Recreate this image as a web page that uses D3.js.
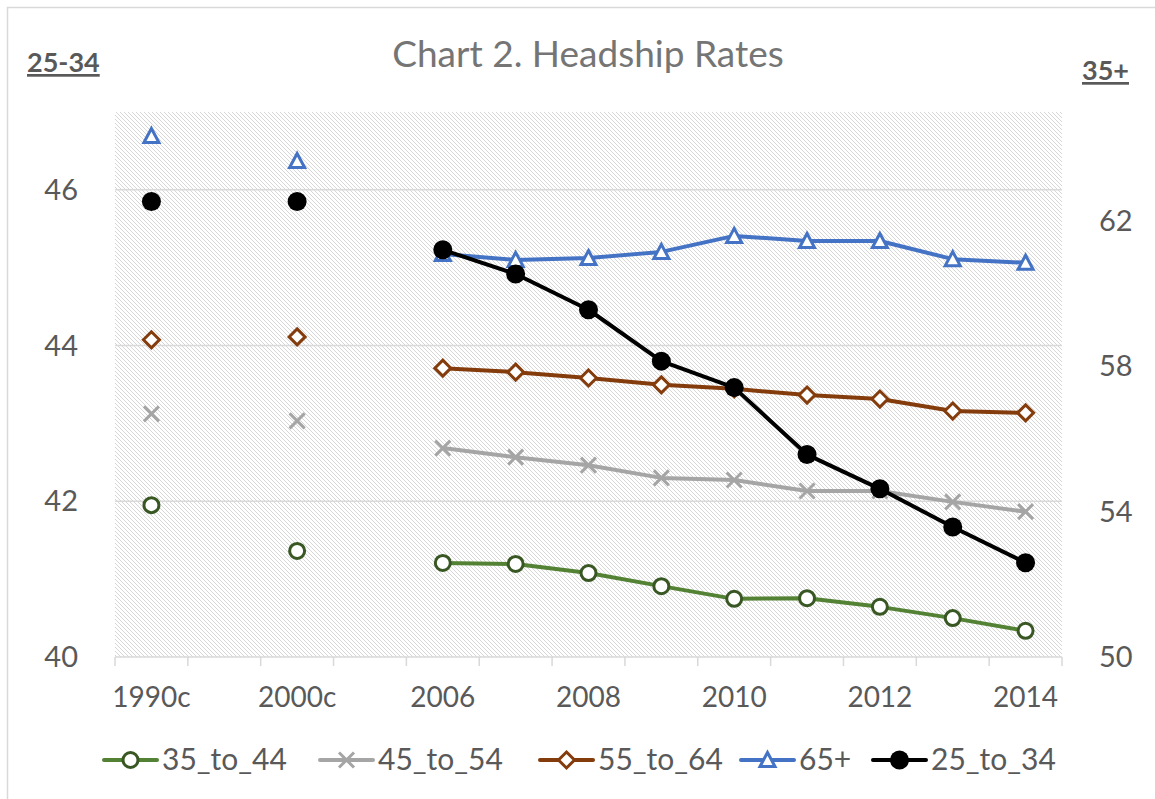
<!DOCTYPE html>
<html>
<head>
<meta charset="utf-8">
<script src="https://cdn.jsdelivr.net/npm/d3@7"></script>
<style>
  body { margin: 0; background: #fff; }
  text { font-family: Lato, "Open Sans", sans-serif; fill: #595959; }
</style>
</head>
<body>
<script>
var width = 1155,
    height = 799;

// categories, blanks keep the gaps between the census years and 2006
var categories = ["1990c", "", "2000c", "", "2006", "2007", "2008", "2009", "2010", "2011", "2012", "2013", "2014"];

var s35to44 = [54.18, null, 52.92, null, 52.59, 52.56, 52.31, 51.95, 51.60, 51.62, 51.38, 51.07, 50.72];
var s45to54 = [56.69, null, 56.50, null, 55.75, 55.50, 55.28, 54.93, 54.87, 54.57, 54.57, 54.27, 54.00];
var s55to64 = [58.73, null, 58.81, null, 57.95, 57.84, 57.68, 57.49, 57.38, 57.21, 57.10, 56.77, 56.72];
var s65plus = [64.34, null, 63.65, null, 61.09, 60.93, 60.98, 61.15, 61.59, 61.45, 61.45, 60.95, 60.85];
var s25to34 = [45.85, null, 45.85, null, 45.23, 44.92, 44.46, 43.80, 43.46, 42.60, 42.16, 41.67, 41.21];

var leftTicks = [40, 42, 44, 46];
var rightTicks = [50, 54, 58, 62];

var series = [
  {name: "35_to_44", values: s35to44, axis: "right", color: "#548235", mark: "#385723", marker: "circleOpen"},
  {name: "45_to_54", values: s45to54, axis: "right", color: "#a5a5a5", mark: "#a5a5a5", marker: "cross"},
  {name: "55_to_64", values: s55to64, axis: "right", color: "#843c0c", mark: "#843c0c", marker: "diamond"},
  {name: "65+",      values: s65plus, axis: "right", color: "#4472c4", mark: "#4472c4", marker: "triangle"},
  {name: "25_to_34", values: s25to34, axis: "left",  color: "#000000", mark: "#000000", marker: "circleFilled"}
];

var plot = {left: 115, top: 112, right: 1062, bottom: 657};

var svg = d3.select("body").append("svg")
    .attr("width", width)
    .attr("height", height);

// outer chart border
svg.append("rect")
    .attr("x", 7.5).attr("y", 7.5)
    .attr("width", width).attr("height", height)
    .attr("fill", "none")
    .attr("stroke", "#d9d9d9")
    .attr("stroke-width", 1.5);

// hatched plot background, one pixel per row like excel's light downward diagonal
var pat = svg.append("defs").append("pattern")
    .attr("id", "hatch")
    .attr("patternUnits", "userSpaceOnUse")
    .attr("width", 4).attr("height", 4);
pat.append("rect").attr("width", 4).attr("height", 4).attr("fill", "#fff");
pat.selectAll("rect.px")
    .data([0, 1, 2, 3])
    .enter().append("rect")
    .attr("class", "px")
    .attr("x", function(d) { return d; })
    .attr("y", function(d) { return d; })
    .attr("width", 1).attr("height", 1)
    .attr("fill", "#d6d6d6")
    .attr("shape-rendering", "crispEdges");

svg.append("rect")
    .attr("x", plot.left).attr("y", plot.top)
    .attr("width", plot.right - plot.left)
    .attr("height", plot.bottom - plot.top)
    .attr("fill", "url(#hatch)");

var x = d3.scaleBand()
    .domain(d3.range(categories.length))
    .range([plot.left, plot.right]);

var yLeft = d3.scaleLinear().domain([40, 47]).range([plot.bottom, plot.top]);
var yRight = d3.scaleLinear().domain([50, 65]).range([plot.bottom, plot.top]);

// gridlines from the left axis
svg.append("g")
    .selectAll("line")
    .data(leftTicks.slice(1))
    .enter().append("line")
    .attr("x1", plot.left).attr("x2", plot.right)
    .attr("y1", function(d) { return yLeft(d); })
    .attr("y2", function(d) { return yLeft(d); })
    .attr("stroke", "#d9d9d9")
    .attr("stroke-width", 1.5);

// category axis
var xAxis = svg.append("g")
    .attr("transform", "translate(0," + plot.bottom + ")");
xAxis.append("line")
    .attr("x1", plot.left).attr("x2", plot.right)
    .attr("stroke", "#d9d9d9").attr("stroke-width", 1.5);
xAxis.selectAll("line.tick")
    .data(d3.range(categories.length + 1))
    .enter().append("line")
    .attr("class", "tick")
    .attr("x1", function(i) { return plot.left + i * x.step(); })
    .attr("x2", function(i) { return plot.left + i * x.step(); })
    .attr("y1", 0).attr("y2", 9)
    .attr("stroke", "#d9d9d9").attr("stroke-width", 1.5);
xAxis.selectAll("text")
    .data(d3.range(0, categories.length, 2))
    .enter().append("text")
    .attr("x", function(i) { return x(i) + x.bandwidth() / 2; })
    .attr("y", 50)
    .attr("text-anchor", "middle")
    .style("font-size", "28px")
    .text(function(i) { return categories[i]; });

// value axes (labels only)
svg.append("g").selectAll("text")
    .data(leftTicks)
    .enter().append("text")
    .attr("x", 78)
    .attr("y", function(d) { return yLeft(d) + 10; })
    .attr("text-anchor", "end")
    .style("font-size", "29px")
    .text(function(d) { return d; });

svg.append("g").selectAll("text")
    .data(rightTicks)
    .enter().append("text")
    .attr("x", 1099)
    .attr("y", function(d) { return yRight(d) + 10; })
    .style("font-size", "29px")
    .text(function(d) { return d; });

// axis titles
svg.append("text")
    .attr("x", 27).attr("y", 72)
    .style("font-size", "27px").style("font-weight", "bold")
    .style("text-decoration", "underline")
    .text("25-34");
svg.append("text")
    .attr("x", 1082).attr("y", 80)
    .style("font-size", "27px").style("font-weight", "bold")
    .style("text-decoration", "underline")
    .text("35+");

// title
svg.append("text")
    .attr("x", 588).attr("y", 67)
    .attr("text-anchor", "middle")
    .style("font-size", "37px")
    .style("fill", "#757575")
    .text("Chart 2. Headship Rates");

function drawMarker(g, type, color) {
  if (type === "circleOpen") {
    g.append("circle").attr("r", 7.5).attr("fill", "#fff")
      .attr("stroke", color).attr("stroke-width", 3);
  } else if (type === "circleFilled") {
    g.append("circle").attr("r", 9.5).attr("fill", color);
  } else if (type === "cross") {
    g.append("path").attr("d", "M-7.5,-7.5L7.5,7.5M-7.5,7.5L7.5,-7.5")
      .attr("stroke", color).attr("stroke-width", 3).attr("fill", "none");
  } else if (type === "diamond") {
    g.append("path").attr("d", "M0,-8L8,0L0,8L-8,0Z")
      .attr("fill", "#fff").attr("stroke", color).attr("stroke-width", 3);
  } else if (type === "triangle") {
    g.append("path").attr("d", "M0,-7.5L7.5,6.5L-7.5,6.5Z")
      .attr("fill", "#fff").attr("stroke", color).attr("stroke-width", 3)
      .attr("stroke-linejoin", "miter");
  }
}

var line = d3.line()
    .defined(function(d) { return d.v !== null; })
    .x(function(d) { return x(d.i) + x.bandwidth() / 2; })
    .y(function(d) { return d.y(d.v); });

series.forEach(function(s) {
  var y = s.axis === "left" ? yLeft : yRight;
  var pts = s.values.map(function(v, i) { return {i: i, v: v, y: y}; });
  var g = svg.append("g").attr("class", "series");

  // lines connect only consecutive years, census points stand alone
  g.append("path")
    .datum(pts)
    .attr("d", line)
    .attr("fill", "none")
    .attr("stroke", s.color)
    .attr("stroke-width", 4)
    .attr("stroke-linejoin", "round");

  g.selectAll("g.pt")
    .data(pts.filter(function(d) { return d.v !== null; }))
    .enter().append("g")
    .attr("class", "pt")
    .attr("transform", function(d) { return "translate(" + (x(d.i) + x.bandwidth() / 2) + "," + y(d.v) + ")"; })
    .each(function() { drawMarker(d3.select(this), s.marker, s.mark); });
});

// legend
var legendX = [104, 320, 540, 741, 873];
var legend = svg.append("g").attr("transform", "translate(0,760)");
series.forEach(function(s, k) {
  var item = legend.append("g").attr("transform", "translate(" + legendX[k] + ",0)");
  item.append("line")
    .attr("x1", 0).attr("x2", 53)
    .attr("stroke", s.color).attr("stroke-width", 4)
    .attr("stroke-linecap", "round");
  drawMarker(item.append("g").attr("transform", "translate(26.5,0)"), s.marker, s.mark);
  item.append("text")
    .attr("x", 58).attr("y", 10)
    .style("font-size", "30px")
    .text(s.name);
});
</script>
</body>
</html>
